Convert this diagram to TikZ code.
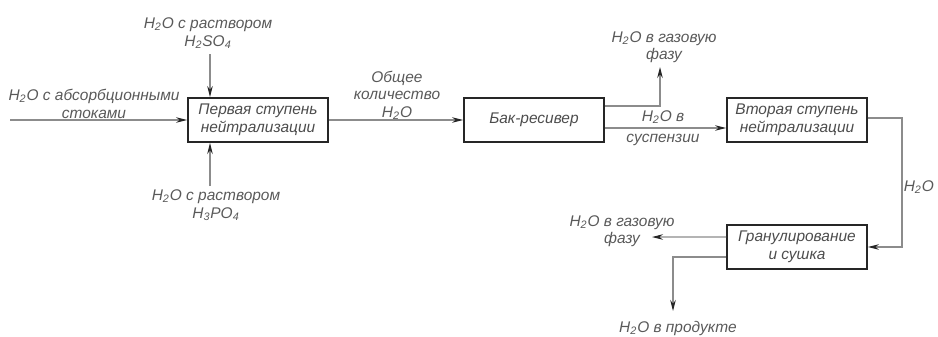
\documentclass[tikz,border=0pt]{standalone}
\usepackage{fontspec}
\setmainfont{Liberation Sans}
\usetikzlibrary{arrows.meta}

\begin{document}
\begin{tikzpicture}[x=0.02cm, y=-0.02cm,
  >={Stealth[length=2.2mm, width=1.1mm, color=black!85]},
  blok/.style={draw=black!85, line width=1.1pt, minimum width=2.8cm,
    minimum height=0.88cm, inner sep=1pt, align=center, text=black!70},
  potok/.style={->, draw=black!45, line width=0.6pt},
  metka/.style={align=center, text=black!65, inner sep=1pt},
  font=\fontsize{8.8}{10}\selectfont\itshape]
  \useasboundingbox (0,0) rectangle (938,336);
  % bloki
  \node[blok] (st1) at (258,120) {Первая ступень\\нейтрализации};
  \node[blok] (bak) at (534,120) {Бак-ресивер};
  \node[blok] (st2) at (797,120) {Вторая ступень\\нейтрализации};
  \node[blok] (gran) at (797,247) {Гранулирование\\и сушка};
  % podpisi
  \node[metka] (mAbs) at (94,104) {H\textsubscript{2}O с абсорбционными\\стоками};
  \node[metka] (mSO4) at (208,33) {H\textsubscript{2}O с раствором\\H\textsubscript{2}SO\textsubscript{4}};
  \node[metka] (mPO4) at (216,205) {H\textsubscript{2}O с раствором\\H\textsubscript{3}PO\textsubscript{4}};
  \node[metka] (mObsh) at (397,95) {Общее\\количество\\H\textsubscript{2}O};
  \node[metka] (mGaz1) at (664,47) {H\textsubscript{2}O в газовую\\фазу};
  \node[metka] (mSusp) at (663,128) {H\textsubscript{2}O в\\[2pt]суспензии};
  \node[metka, anchor=east] (mVoda) at (936,187) {H\textsubscript{2}O};
  \node[metka] (mGaz2) at (622,231) {H\textsubscript{2}O в газовую\\фазу};
  \node[metka] (mProd) at (678,328) {H\textsubscript{2}O в продукте};
  % tochki
  \coordinate (vhod) at (10,120);
  \coordinate (sverhu) at (210,54);
  \coordinate (snizu) at (210,186);
  \coordinate (gaz1) at (660,67);
  \coordinate (povorot) at (902,180);
  \coordinate (gaz2) at (652,237);
  \coordinate (prod) at (673,311);
  % potoki
  \draw[potok] (vhod) -- (st1.west);
  \draw[potok] (sverhu) -- (sverhu |- st1.north);
  \draw[potok] (snizu) -- (snizu |- st1.south);
  \draw[potok] (st1.east) -- (bak.west);
  \draw[potok] ([yshift=0.28cm]bak.east) -| (gaz1);
  \draw[potok] ([yshift=-0.16cm]bak.east) -- ([yshift=-0.16cm]st2.west);
  \draw[potok] ([yshift=0.04cm]st2.east) -| (povorot) |- (gran.east);
  \draw[potok] ([yshift=0.2cm]gran.west) -- (gaz2);
  \draw[potok] ([yshift=-0.2cm]gran.west) -| (prod);
\end{tikzpicture}
\end{document}
